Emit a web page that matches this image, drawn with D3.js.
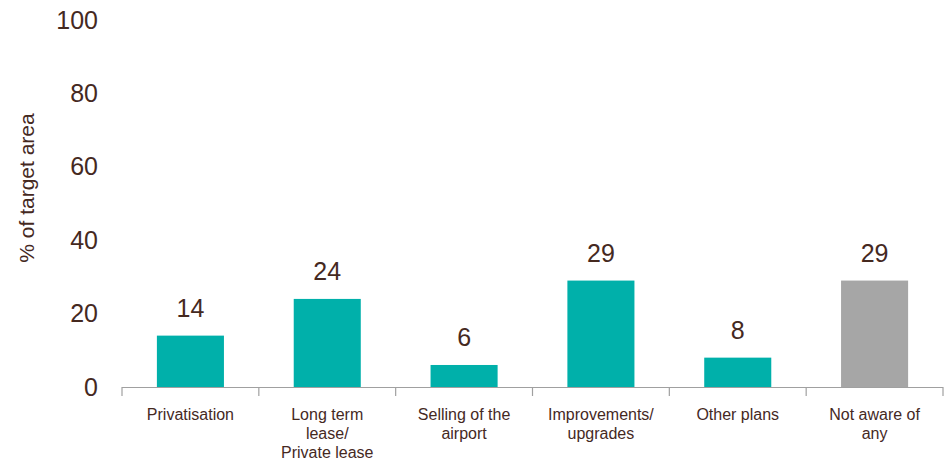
<!DOCTYPE html>
<html>
<head>
<meta charset="utf-8">
<script src="https://cdn.jsdelivr.net/npm/d3@7"></script>
<style>
  html, body { margin: 0; padding: 0; background: #fff; }
  svg { display: block; font-family: "Liberation Sans", Arial, sans-serif; }
</style>
</head>
<body>
<svg id="chart" width="947" height="462"></svg>
<script>
// Survey categories (multi-line labels split on "|")
const categories = [
  "Privatisation",
  "Long term|lease/|Private lease",
  "Selling of the|airport",
  "Improvements/|upgrades",
  "Other plans",
  "Not aware of|any"
];
const values = [14, 24, 6, 29, 8, 29];
const barColors = ["#00b0aa", "#00b0aa", "#00b0aa", "#00b0aa", "#00b0aa", "#a6a6a6"];
const yTicks = [0, 20, 40, 60, 80, 100];
const yTitle = "% of target area";

const textColor = "#45291f";
const svg = d3.select("#chart");

const x = d3.scaleBand().domain(categories).range([122, 943]).paddingInner(0).paddingOuter(0);
const y = d3.scaleLinear().domain([0, 100]).range([387, 20]);
const barW = x.bandwidth() * 0.49;

// y tick labels only (no axis line, no tick marks)
const yAxis = svg.append("g")
  .attr("transform", "translate(98,0)")
  .call(d3.axisLeft(y).tickValues(yTicks).tickSize(0).tickPadding(0));
yAxis.select(".domain").remove();
yAxis.selectAll("text")
  .attr("fill", textColor)
  .style("font-size", "25px")
  .style("font-family", "Liberation Sans, Arial, sans-serif");

// y title
svg.append("text")
  .attr("transform", "translate(34,188) rotate(-90)")
  .attr("text-anchor", "middle")
  .attr("fill", textColor)
  .style("font-size", "21px")
  .text(yTitle);

// bars
svg.append("g").selectAll("rect")
  .data(values)
  .join("rect")
  .attr("x", (d, i) => x(categories[i]) + (x.bandwidth() - barW) / 2)
  .attr("width", barW)
  .attr("y", d => y(d))
  .attr("height", d => y(0) - y(d))
  .attr("fill", (d, i) => barColors[i]);

// value labels
svg.append("g").selectAll("text")
  .data(values)
  .join("text")
  .attr("x", (d, i) => x(categories[i]) + x.bandwidth() / 2)
  .attr("y", d => y(d) - 19)
  .attr("text-anchor", "middle")
  .attr("fill", textColor)
  .style("font-size", "25px")
  .text(d => d);

// x axis: baseline with boundary ticks between categories
const axisG = svg.append("g").attr("stroke", "#a0a0a0").attr("stroke-width", 1.2);
axisG.append("line")
  .attr("x1", x.range()[0]).attr("x2", x.range()[1])
  .attr("y1", y(0) + 0.5).attr("y2", y(0) + 0.5);
const bounds = categories.map(c => x(c)).concat([x.range()[1]]);
axisG.selectAll("line.tick")
  .data(bounds)
  .join("line")
  .attr("class", "tick")
  .attr("x1", d => d).attr("x2", d => d)
  .attr("y1", y(0)).attr("y2", y(0) + 9);

// category labels
const catG = svg.append("g");
categories.forEach(c => {
  const t = catG.append("text")
    .attr("x", x(c) + x.bandwidth() / 2)
    .attr("y", 420)
    .attr("text-anchor", "middle")
    .attr("fill", textColor)
    .style("font-size", "16px");
  c.split("|").forEach((line, j) => {
    t.append("tspan")
      .attr("x", x(c) + x.bandwidth() / 2)
      .attr("dy", j === 0 ? 0 : 19)
      .text(line);
  });
});
</script>
</body>
</html>
